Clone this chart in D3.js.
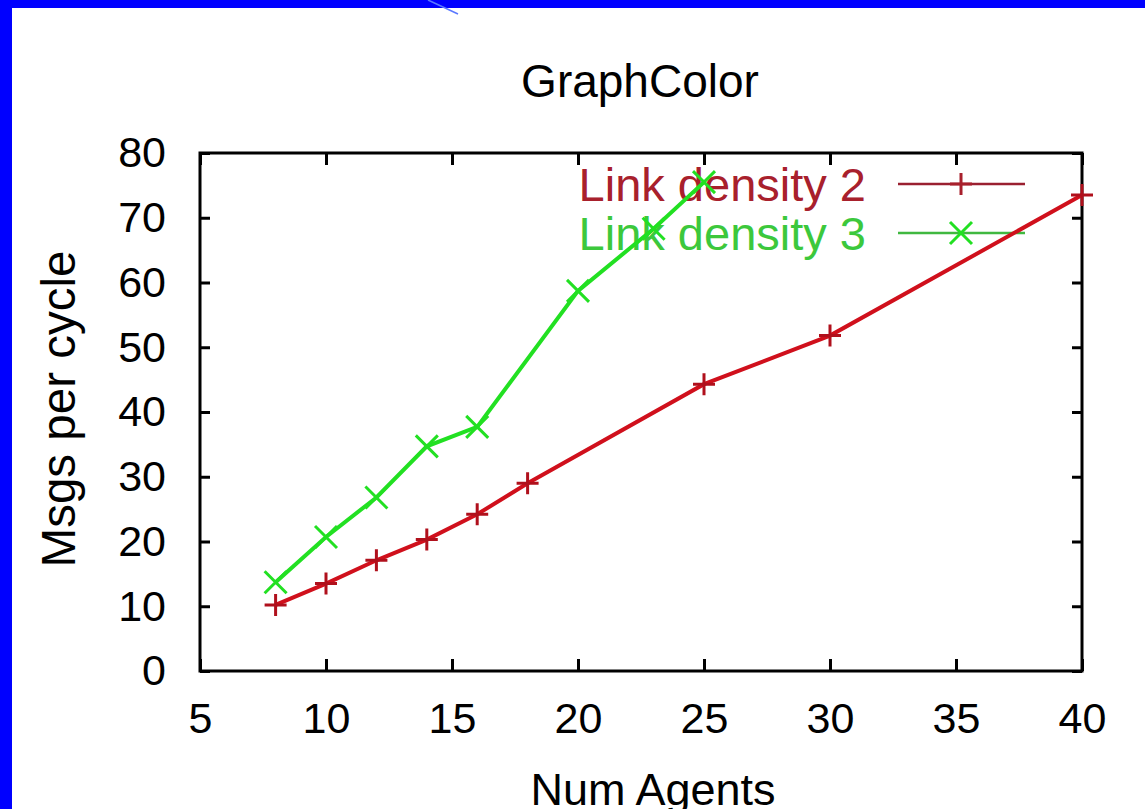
<!DOCTYPE html>
<meta charset="utf-8">
<head>
    <title>GraphColor</title>
    <script type="text/javascript" src="https://cdn.jsdelivr.net/npm/d3@7"></script>
    <style>
        body { margin: 0; background: #fff; }
        text { font-family: "Liberation Sans", Arial, Helvetica, sans-serif; }
    </style>
</head>
<body>
    <div id="chart"></div>
    <script>
        // data
        const xTicks = [5, 10, 15, 20, 25, 30, 35, 40];
        const yTicks = [0, 10, 20, 30, 40, 50, 60, 70, 80];
        const agents2 = [8, 10, 12, 14, 16, 18, 25, 30, 40];
        const msgs2 = [10.2, 13.5, 17.1, 20.3, 24.2, 29.0, 44.3, 51.8, 73.5];
        const agents3 = [8, 10, 12, 14, 16, 20, 23, 25];
        const msgs3 = [13.7, 20.7, 26.8, 34.7, 37.7, 58.7, 68.3, 75.5];
        const seriesNames = ["Link density 2", "Link density 3"];

        const width = 1145, height = 809;
        const plotL = 200, plotR = 1082, plotT = 153, plotB = 671;
        const red = "#d0101c", redText = "#a8202c", green = "#22e022", greenText = "#3cc83c";

        const svg = d3.select("#chart").append("svg")
            .attr("width", width)
            .attr("height", height);

        // slide frame
        svg.append("rect").attr("x", 0).attr("y", 0).attr("width", width).attr("height", 8).attr("fill", "#0000ff");
        svg.append("rect").attr("x", 0).attr("y", 0).attr("width", 12).attr("height", height).attr("fill", "#0000ff");
        svg.append("path").attr("d", "M428,0 Q445,8 458,14").attr("fill", "none")
            .attr("stroke", "#5a78ff").attr("stroke-width", 1.5);

        const x = d3.scaleLinear().domain([5, 40]).range([plotL, plotR]);
        const y = d3.scaleLinear().domain([0, 80]).range([plotB, plotT]);

        // title
        svg.append("text").attr("x", 640).attr("y", 97).attr("text-anchor", "middle")
            .attr("font-size", 46).text("GraphColor");

        // axes (ticks point inward, gnuplot style)
        const xAxis = svg.append("g").attr("transform", `translate(0,${plotB})`)
            .call(d3.axisBottom(x).tickValues(xTicks).tickSize(-12).tickPadding(0));
        xAxis.selectAll("text").attr("dy", null).attr("y", 62).attr("font-size", 43).attr("fill", "#000");

        svg.append("g").attr("transform", `translate(0,${plotT})`)
            .call(d3.axisTop(x).tickValues(xTicks).tickSize(-12).tickFormat(""));

        const yAxis = svg.append("g").attr("transform", `translate(${plotL},0)`)
            .call(d3.axisLeft(y).tickValues(yTicks).tickSize(-10).tickPadding(34));
        yAxis.selectAll("text").attr("font-size", 43).attr("fill", "#000");

        svg.append("g").attr("transform", `translate(${plotR},0)`)
            .call(d3.axisRight(y).tickValues(yTicks).tickSize(-10).tickFormat(""));

        svg.selectAll(".domain").remove();
        svg.selectAll(".tick line").attr("stroke", "#000").attr("stroke-width", 3);

        svg.append("rect").attr("x", plotL).attr("y", plotT)
            .attr("width", plotR - plotL).attr("height", plotB - plotT)
            .attr("fill", "none").attr("stroke", "#000").attr("stroke-width", 3);

        // axis titles
        svg.append("text").attr("x", 653).attr("y", 805).attr("text-anchor", "middle")
            .attr("font-size", 45).text("Num Agents");
        svg.append("text").attr("transform", "translate(75,409) rotate(-90)")
            .attr("text-anchor", "middle").attr("font-size", 47.5).text("Msgs per cycle");

        // legend
        const legend = [
            { name: seriesNames[0], text: redText, line: "#9a2030", y: 184 },
            { name: seriesNames[1], text: greenText, line: "#40b840", y: 233 }
        ];
        const lg = svg.append("g");
        legend.forEach(function (d) {
            lg.append("text").attr("x", 866).attr("y", d.y + 17).attr("text-anchor", "end")
                .attr("font-size", 47).attr("fill", d.text).text(d.name);
            lg.append("line").attr("x1", 898).attr("x2", 1025).attr("y1", d.y).attr("y2", d.y)
                .attr("stroke", d.line).attr("stroke-width", 2.5);
        });

        function marker(g, px, py, type, color, s) {
            if (type === "plus") {
                g.append("path").attr("d", `M${px - s},${py}H${px + s}M${px},${py - s}V${py + s}`)
                    .attr("stroke", color).attr("stroke-width", 3).attr("fill", "none");
            } else {
                g.append("path").attr("d", `M${px - s},${py - s}L${px + s},${py + s}M${px - s},${py + s}L${px + s},${py - s}`)
                    .attr("stroke", color).attr("stroke-width", 3).attr("fill", "none");
            }
        }

        const line = d3.line().x(d => x(d[0])).y(d => y(d[1]));
        const data2 = agents2.map((a, i) => [a, msgs2[i]]);
        const data3 = agents3.map((a, i) => [a, msgs3[i]]);

        // legend markers
        marker(lg, 961, 184, "plus", "#a8202c", 11);
        marker(lg, 961, 233, "cross", green, 11);

        const g = svg.append("g");
        g.append("path").datum(data3).attr("d", line).attr("fill", "none")
            .attr("stroke", green).attr("stroke-width", 4);
        data3.forEach(d => marker(g, x(d[0]), y(d[1]), "cross", green, 11));

        g.append("path").datum(data2).attr("d", line).attr("fill", "none")
            .attr("stroke", red).attr("stroke-width", 4);
        data2.forEach(d => marker(g, x(d[0]), y(d[1]), "plus", "#b0101c", 11));
    </script>
</body>
</html>
